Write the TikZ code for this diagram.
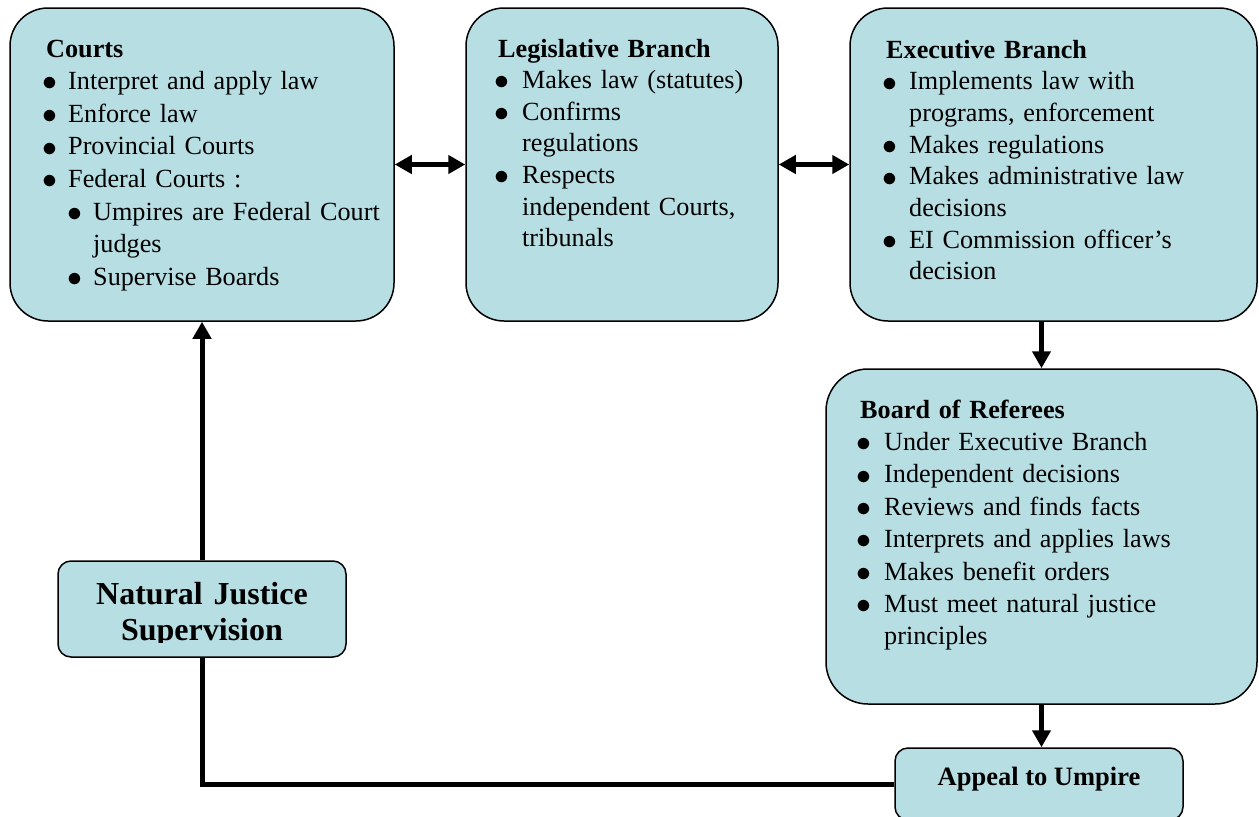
\documentclass[tikz,border=0pt]{standalone}
\usepackage{fontspec}
\usepackage{graphicx}
\setmainfont{Liberation Serif}
\usetikzlibrary{arrows.meta}
\definecolor{boxfill}{RGB}{183,222,227}
\newcommand\bul[1][23pt]{\makebox[#1][l]{\hspace*{-3.9pt}\smash{\raisebox{-1.3pt}{\scalebox{1.2}{$\bullet$}}}}}
\tikzset{
  box/.style={draw, line width=1.5pt, fill=boxfill, inner sep=0pt, rounded corners=#1},
  box/.default=38pt,
  txt/.style={inner sep=0pt, anchor=base west, align=left},
  arr/.style={line width=5pt, -{Triangle[length=17pt,width=18pt]}},
  dbl/.style={line width=5pt, {Triangle[length=17pt,width=18pt]}-{Triangle[length=17pt,width=18pt]}},
  conn/.style={line width=5pt}
}
\begin{document}
\begin{tikzpicture}[x=1pt,y=-1pt]
\useasboundingbox (0,0) rectangle (1259,817);
% boxes
\node[box, minimum width=384pt, minimum height=313pt] (courts) at (202,164.5) {};
\node[box, minimum width=312pt, minimum height=313pt] (legis) at (622,164.5) {};
\node[box, minimum width=407pt, minimum height=313pt] (exec) at (1053.5,164.5) {};
\node[box=42pt, minimum width=431pt, minimum height=335pt] (board) at (1041.5,536.5) {};
\node[box=13pt, minimum width=288pt, minimum height=96pt] (nj) at (202,609) {};
\node[box=13pt, minimum width=288pt, minimum height=72pt] (appeal) at (1039,784) {};
% texts
\node[txt, text width=345pt, font=\fontsize{26.2}{32.6}\selectfont] (courtsT) at (46,57) {%
\textbf{Courts}\\
\bul[22pt]Interpret and apply law\\
\bul[22pt]Enforce law\\
\bul[22pt]Provincial Courts\\
\bul[22pt]Federal Courts :\\
\hspace*{25pt}\bul[22pt]Umpires are Federal Court\\
\hspace*{47pt}judges\\
\hspace*{25pt}\bul[22pt]Supervise Boards};
\node[txt, text width=275pt, font=\fontsize{26.2}{31.6}\selectfont] (legisT) at (498,57) {%
\textbf{Legislative Branch}\\
\bul[24pt]Makes law (statutes)\\
\bul[24pt]Confirms\\
\hspace*{24pt}regulations\\
\bul[24pt]Respects\\
\hspace*{24pt}independent Courts,\\
\hspace*{24pt}tribunals};
\node[txt, text width=365pt, font=\fontsize{26.2}{31.7}\selectfont] (execT) at (886,58) {%
\textbf{Executive Branch}\\
\bul Implements law with\\
\hspace*{23pt}programs, enforcement\\
\bul Makes regulations\\
\bul Makes administrative law\\
\hspace*{23pt}decisions\\
\bul EI Commission officer’s\\
\hspace*{23pt}decision};
\node[txt, text width=390pt, font=\fontsize{26.2}{32.4}\selectfont] (boardT) at (860,418) {%
\textbf{Board of Referees}\\
\bul[24pt]Under Executive Branch\\
\bul[24pt]Independent decisions\\
\bul[24pt]Reviews and finds facts\\
\bul[24pt]Interprets and applies laws\\
\bul[24pt]Makes benefit orders\\
\bul[24pt]Must meet natural justice\\
\hspace*{24pt}principles};
\begin{scope}
\clip (0,0) rectangle (1259,642);
\node[inner sep=0pt, anchor=base, text width=280pt, align=center, font=\bfseries\fontsize{32}{36}\selectfont] (njT) at (202,604) {Natural Justice\\Supervision};
\end{scope}
\node[inner sep=0pt, anchor=base, font=\bfseries\fontsize{26.5}{32}\selectfont] (appealT) at (1039,785) {Appeal to Umpire};
% connectors
\draw[dbl] (courts.east) -- (legis.west);
\draw[dbl] (legis.east) -- (exec.west);
\draw[arr] (board.north |- exec.south) -- (board.north);
\draw[arr] (board.south) -- (board.south |- appeal.north);
\draw[arr] (nj.north) -- (courts.south);
\draw[conn] (appeal.west) -| (nj.south);
\end{tikzpicture}
\end{document}
